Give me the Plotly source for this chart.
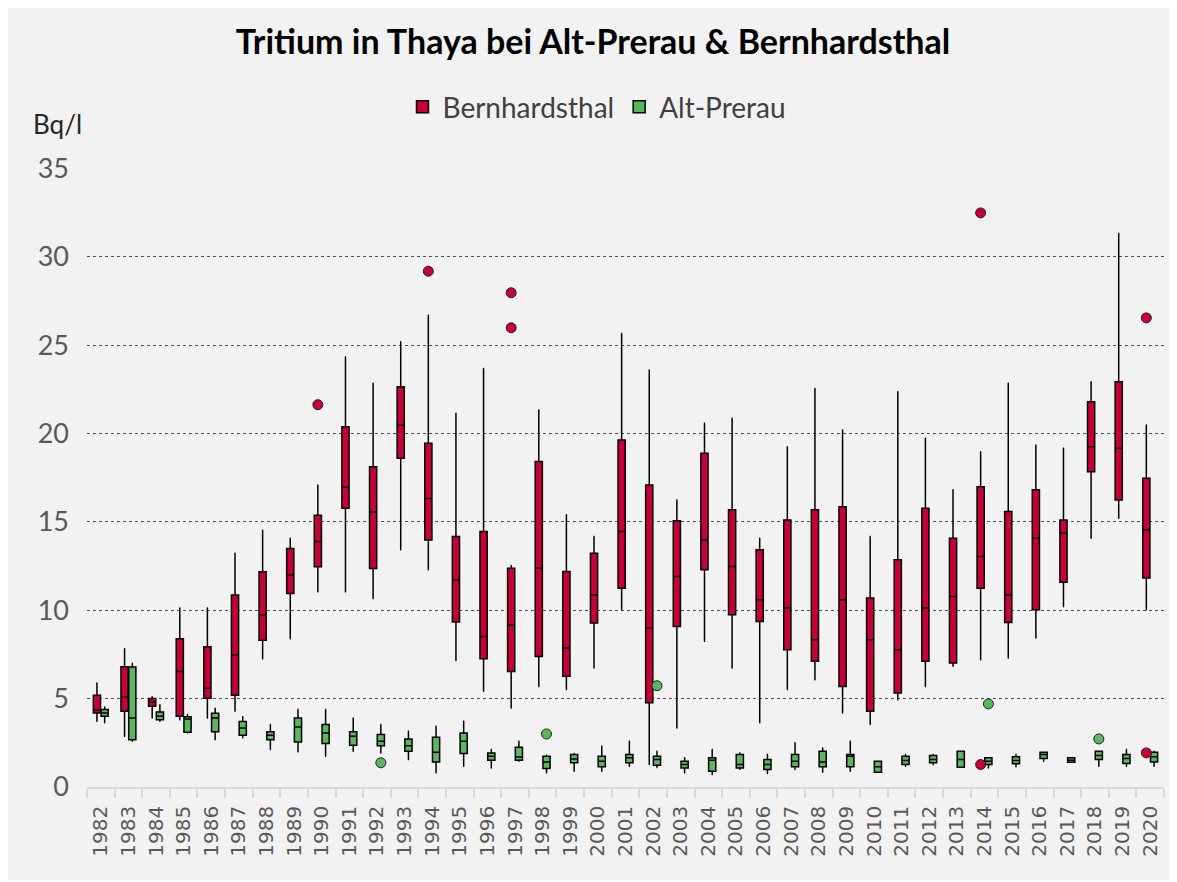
import plotly.graph_objects as go

years = [str(y) for y in range(1982, 2021)]

# Bernhardsthal (red)
b_low = [3.72, 2.87, 3.91, 3.81, 3.91, 4.28, 7.26, 8.39, 11.05, 11.05, 10.67, 13.42, 12.29, 7.16, 5.41, 4.47, 5.69, 5.51, 6.73, 10.03,
         1.27, 3.34, 8.24, 6.73, 3.63, 5.51, 6.07, 4.19, 3.53, 4.94, 5.69, 6.83, 7.20, 7.30, 8.43, 10.21, 14.08, 15.21, 10.03]
b_q1 = [4.19, 4.28, 4.57, 4.00, 5.02, 5.19, 8.30, 10.95, 12.46, 15.77, 12.36, 18.60, 13.98, 9.33, 7.26, 6.54, 7.39, 6.26, 9.28, 11.25,
        4.76, 9.08, 12.29, 9.75, 9.37, 7.77, 7.11, 5.69, 4.28, 5.32, 7.11, 7.02, 11.25, 9.31, 10.03, 11.59, 17.84, 16.24, 11.82]
b_med = [4.34, 5.10, 4.81, 6.53, 5.58, 7.47, 9.73, 11.99, 13.89, 16.96, 15.56, 20.46, 16.32, 11.72, 8.52, 9.18, 12.38, 7.86, 10.88, 14.45,
         8.99, 11.91, 13.98, 12.47, 10.59, 10.12, 8.33, 10.59, 8.33, 7.77, 10.12, 10.78, 13.04, 10.88, 14.08, 14.36, 19.25, 19.16, 14.55]
b_q3 = [5.19, 6.81, 5.00, 8.39, 7.94, 10.86, 12.18, 13.49, 15.38, 20.38, 18.12, 22.64, 19.45, 14.17, 14.45, 12.38, 18.41, 12.19, 13.23, 19.63,
        17.09, 15.07, 18.88, 15.68, 13.42, 15.11, 15.68, 15.86, 10.69, 12.85, 15.77, 14.08, 16.99, 15.58, 16.81, 15.11, 21.80, 22.93, 17.47]
b_high = [5.89, 7.82, 5.10, 10.12, 10.12, 13.23, 14.53, 14.08, 17.09, 24.34, 22.84, 25.19, 26.69, 21.14, 23.68, 12.53, 21.33, 15.40, 14.17, 25.66,
          23.59, 16.24, 20.58, 20.86, 14.08, 19.25, 22.55, 20.20, 14.17, 22.36, 19.73, 16.81, 18.97, 22.84, 19.35, 19.16, 22.93, 31.31, 20.48]
b_out_years = ["1990", "1994", "1997", "1997", "2014", "2014", "2020", "2020"]
b_out_vals = [21.63, 29.18, 27.96, 25.98, 32.48, 1.27, 26.54, 1.93]

# Alt-Prerau (green)
a_low = [3.63, 2.59, 3.72, 3.06, 2.68, 2.78, 2.12, 1.99, 1.74, 2.02, 1.93, 1.55, 0.80, 1.18, 1.08, 1.45, 0.80, 0.89, 0.89, 1.18,
         1.10, 0.80, 0.71, 1.00, 0.76, 0.99, 0.84, 0.89, 0.84, 1.18, 1.27, 1.12, 1.08, 1.14, 1.46, 1.40, 1.18, 1.18, 1.18]
a_q1 = [4.00, 2.68, 3.81, 3.10, 3.12, 2.93, 2.68, 2.55, 2.46, 2.36, 2.34, 2.02, 1.42, 1.89, 1.51, 1.51, 1.05, 1.37, 1.14, 1.37,
        1.23, 1.08, 0.89, 1.08, 0.99, 1.14, 1.14, 1.14, 0.84, 1.27, 1.37, 1.12, 1.27, 1.31, 1.61, 1.40, 1.55, 1.33, 1.42]
a_med = [4.19, 3.91, 4.00, 3.85, 3.91, 3.34, 2.93, 3.40, 3.06, 2.87, 2.59, 2.34, 1.97, 2.59, 1.74, 1.70, 1.42, 1.59, 1.46, 1.65,
         1.55, 1.27, 1.51, 1.27, 1.27, 1.46, 1.42, 1.74, 1.15, 1.50, 1.55, 1.55, 1.46, 1.50, 1.84, 1.52, 1.78, 1.61, 1.71]
a_q3 = [4.38, 6.79, 4.25, 3.97, 4.17, 3.70, 3.12, 3.91, 3.53, 3.12, 2.97, 2.72, 2.81, 3.06, 1.93, 2.25, 1.74, 1.84, 1.74, 1.84,
        1.74, 1.46, 1.65, 1.84, 1.55, 1.84, 2.02, 1.84, 1.46, 1.74, 1.78, 2.02, 1.65, 1.71, 1.97, 1.65, 2.02, 1.84, 1.97]
a_high = [4.53, 6.98, 4.66, 4.10, 4.45, 3.98, 3.53, 4.38, 4.38, 3.91, 3.53, 3.15, 3.44, 3.72, 2.12, 2.59, 1.80, 1.90, 2.31, 2.59,
          2.02, 1.65, 2.12, 1.93, 1.84, 2.50, 2.21, 2.59, 1.46, 1.84, 1.84, 2.02, 1.65, 1.84, 1.97, 1.65, 2.02, 2.12, 2.02]
a_out_years = ["1992", "1998", "2002", "2014", "2018"]
a_out_vals = [1.37, 3.00, 5.73, 4.70, 2.72]

y_ticks = [0, 5, 10, 15, 20, 25, 30, 35]

RED = "#C8003A"
GREEN = "#5CB660"
OFF = 0.14
BW = 0.26

idx = {y: i for i, y in enumerate(years)}
xb = [i - OFF for i in range(len(years))]
xa = [i + OFF for i in range(len(years))]

fig = go.Figure()
fig.add_trace(go.Box(
    name="Bernhardsthal", x=xb, q1=b_q1, median=b_med, q3=b_q3,
    lowerfence=b_low, upperfence=b_high, width=BW, boxpoints=False,
    fillcolor=RED, line=dict(color="#000000", width=1.5), whiskerwidth=0.15,
))
fig.add_trace(go.Box(
    name="Alt-Prerau", x=xa, q1=a_q1, median=a_med, q3=a_q3,
    lowerfence=a_low, upperfence=a_high, width=BW, boxpoints=False,
    fillcolor=GREEN, line=dict(color="#000000", width=1.5), whiskerwidth=0.15,
))
fig.add_trace(go.Scatter(
    x=[idx[y] - OFF for y in b_out_years], y=b_out_vals, mode="markers",
    marker=dict(color=RED, size=10, line=dict(color="#222222", width=1)),
    showlegend=False, hoverinfo="y",
))
fig.add_trace(go.Scatter(
    x=[idx[y] + OFF for y in a_out_years], y=a_out_vals, mode="markers",
    marker=dict(color=GREEN, size=10, line=dict(color="#222222", width=1)),
    showlegend=False, hoverinfo="y",
))

# page body has an 8px margin; figure sized/positioned to compensate
W, H = 1163, 872
L, T = 79, 160
R = W - 1156
B = H - 779.5
pw = W - L - R
ph = H - T - B

fig.update_layout(
    width=W, height=H,
    margin=dict(l=L, r=R, t=T, b=B, pad=0),
    paper_bgcolor="#F2F2F2",
    plot_bgcolor="#F2F2F2",
    font=dict(family="Lato, sans-serif", color="#595959"),
    title=dict(
        text="<b>Tritium in Thaya bei Alt-Prerau &amp; Bernhardsthal</b>",
        x=(593 - 8) / W, xanchor="center", y=1 - (42 - 8) / H, yanchor="middle",
        font=dict(family="Lato, sans-serif", size=34, color="#000000"),
    ),
    legend=dict(
        orientation="h", x=(597 - 8 - L) / pw, xanchor="center", y=1 + (T - (107 - 8)) / ph, yanchor="middle",
        font=dict(family="Lato, sans-serif", size=28, color="#404040"),
        bgcolor="rgba(0,0,0,0)", itemwidth=30,
    ),
    showlegend=True,
    xaxis=dict(
        range=[-0.5, len(years) - 0.5],
        tickmode="array", tickvals=list(range(len(years))), ticktext=years,
        tickangle=-90, ticks="", showgrid=False, zeroline=False,
        showline=True, linecolor="#D9D9D9", linewidth=1.5,
        tickfont=dict(family="DejaVu Sans", size=20, color="#595959"),
        ticklabelstandoff=9,
        minor=dict(tickmode="linear", tick0=-0.5, dtick=1, ticks="outside",
                   ticklen=9, tickcolor="#D9D9D9", tickwidth=1.5, showgrid=False),
    ),
    yaxis=dict(
        range=[0, 35.02], tickmode="array", tickvals=y_ticks,
        showgrid=True, gridcolor="#505050", griddash="dot", gridwidth=1,
        zeroline=False, showline=False, ticks="",
        tickfont=dict(family="Lato, sans-serif", size=27, color="#595959"),
        ticklabelstandoff=17,
    ),
    annotations=[dict(
        text="Bq/l", xref="paper", yref="paper",
        x=(31 - 8 - L) / pw, xanchor="left", y=1 + (T - (124 - 8)) / ph, yanchor="middle",
        showarrow=False, font=dict(family="Lato, sans-serif", size=26, color="#262626"),
    )],
)

fig.write_html("out.html")
